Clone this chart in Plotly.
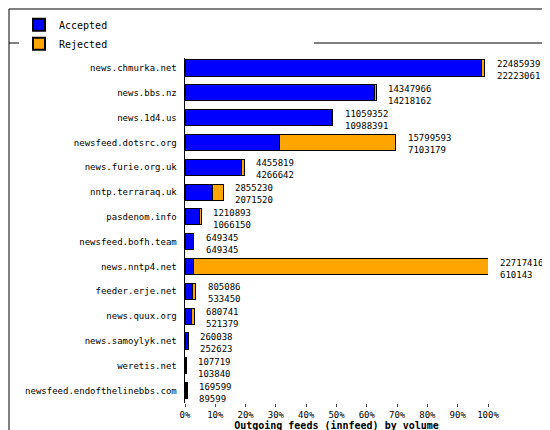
import plotly.graph_objects as go

hosts = ["news.chmurka.net","news.bbs.nz","news.1d4.us","newsfeed.dotsrc.org","news.furie.org.uk",
         "nntp.terraraq.uk","pasdenom.info","newsfeed.bofh.team","news.nntp4.net","feeder.erje.net",
         "news.quux.org","news.samoylyk.net","weretis.net","newsfeed.endofthelinebbs.com"]
offered = [22485939,14347966,11059352,15799593,4455819,2855230,1210893,649345,22717416,805086,
           680741,260038,107719,169599]
accepted = [22223061,14218162,10988391,7103179,4266642,2071520,1066150,649345,610143,533450,
            521379,252623,103840,89599]

mx = max(offered)
acc_pct = [a / mx * 100 for a in accepted]
rej_pct = [(o - a) / mx * 100 for o, a in zip(offered, accepted)]
tot_pct = [o / mx * 100 for o in offered]

font = "DejaVu Sans Mono"
fig = go.Figure()
fig.add_trace(go.Bar(y=hosts, x=acc_pct, orientation="h", name="Accepted",
                     marker=dict(color="#0000ff", line=dict(color="black", width=1))))
fig.add_trace(go.Bar(y=hosts, x=rej_pct, orientation="h", name="Rejected",
                     marker=dict(color="#ffa500", line=dict(color="black", width=1))))

for h, t, o, a in zip(hosts, tot_pct, offered, accepted):
    fig.add_annotation(x=t, y=h, text=f"{o}<br>{a}", showarrow=False, xanchor="left",
                       xshift=10, yshift=-2, align="left", font=dict(family=font, size=9, color="black"))

W, L, R, T, B = 550, 177, 70, 45, 35
pw, ph = W - L - R, 430 - T - B
fig.update_layout(
    width=550, height=430, barmode="stack", bargap=0.35,
    plot_bgcolor="white", paper_bgcolor="white",
    font=dict(family=font, size=9, color="black"),
    margin=dict(l=L, r=R, t=T, b=B, autoexpand=False),
    showlegend=True,
    legend=dict(orientation="h", traceorder="normal", xref="container", yref="container",
                x=0.02, y=0.995, xanchor="left", yanchor="top", entrywidth=250,
                font=dict(family=font, size=10), itemsizing="constant"),
    xaxis=dict(range=[0, 100], tickvals=list(range(0, 101, 10)), automargin=False,
               ticktext=[f"{v}%" for v in range(0, 101, 10)], showgrid=False, zeroline=False,
               ticks="outside", ticklen=3, title=dict(text="<b>Outgoing feeds (innfeed) by volume</b>",
               standoff=0, font=dict(family=font, size=10))),
    yaxis=dict(autorange="reversed", showgrid=False, showline=True, linecolor="black",
               ticks="", ticksuffix=" ", automargin=False),
    shapes=[
        dict(type="rect", xref="paper", yref="paper", x0=-(L - 1)/pw, x1=1 + (R - 1)/pw,
             y0=-(B - 1)/ph, y1=1 + (T - 1)/ph, line=dict(color="black", width=1)),
        dict(type="line", xref="paper", yref="paper", x0=-(L - 1)/pw, x1=1 + (R - 1)/pw,
             y0=1 + 10/ph, y1=1 + 10/ph, line=dict(color="black", width=1)),
    ],
)
fig.write_html("out.html")
